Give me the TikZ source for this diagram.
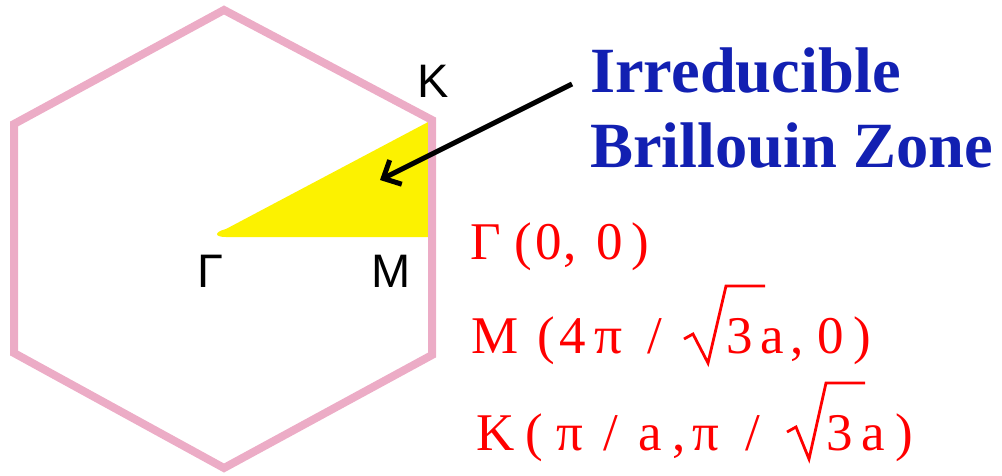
\documentclass[tikz,border=0pt]{standalone}
\usepackage{fontspec}
\setmainfont{Liberation Serif}
\newfontfamily\labsans{Liberation Sans}
\usetikzlibrary{arrows.meta}
\definecolor{hexpink}{RGB}{236,172,198}
\definecolor{ibzyellow}{RGB}{252,242,0}
\definecolor{ibzblue}{RGB}{18,32,178}
\definecolor{coordred}{RGB}{255,0,0}
\newcommand\gl[2]{\makebox[0pt][l]{\hspace*{#1pt}#2}}
\tikzset{
  hexline/.style={draw=hexpink, line width=8pt, line join=miter},
  ptlabel/.style={inner sep=0pt, anchor=base west, font=\labsans\fontsize{47}{50}\selectfont},
  bluetitle/.style={inner sep=0pt, anchor=base west, text=ibzblue, font=\bfseries\fontsize{64.5}{66}\selectfont},
  coordrow/.style={inner sep=0pt, anchor=base west, text=coordred, font=\fontsize{53}{53}\selectfont},
  radical/.style={draw=coordred, line width=2.8pt, line join=miter, line cap=butt},
}
\begin{document}
\begin{tikzpicture}[x=1pt,y=-1pt]
\useasboundingbox (0,0) rectangle (1002,475);
% yellow irreducible zone
\coordinate (G) at (218,233);
\coordinate (Kc) at (430,121);
\coordinate (Mc) at (430,237);
\fill[ibzyellow] (Kc) -- (226,229) .. controls (214,232) and (214,237) .. (226,237) -- (Mc) -- cycle;
% hexagon
\coordinate (h1) at (224,10);
\coordinate (h2) at (432,120);
\coordinate (h3) at (432,355);
\coordinate (h4) at (224,468);
\coordinate (h5) at (14,353);
\coordinate (h6) at (14,124);
\draw[hexline] (h1) -- (h2) -- (h3) -- (h4) -- (h5) -- (h6) -- cycle;
% point labels
\node[ptlabel] (labK) at (417,97) {K};
\node[ptlabel] (labG) at (197,287) {Γ};
\node[ptlabel] (labM) at (371,287) {M};
% title
\node[bluetitle] (t1) at (590,92) {Irreducible};
\node[bluetitle] (t2) at (590,167) {Brillouin Zone};
% arrow
\coordinate (astart) at (572,84);
\coordinate (atip) at (380,180);
\draw[line width=5pt, -{Straight Barb[length=14pt,width=27pt]}] (astart) -- (atip);
% coordinates
\node[coordrow] (row1) at (470,259)
  {\gl{0}{Γ}\gl{44}{(}\gl{65}{0}\gl{93}{,}\gl{126}{0}\gl{161}{)}\hspace*{178pt}};
\node[coordrow] (row2) at (471,353)
  {\gl{0}{M}\gl{66}{(}\gl{88}{4}\gl{123}{\scalebox{1.05}[1]{π}}\gl{176}{/}\gl{255}{3}\gl{289}{a}\gl{319}{,}\gl{346}{0}\gl{382}{)}\hspace*{397pt}};
\node[coordrow] (row3) at (476,450)
  {\gl{0}{K}\gl{49}{(}\gl{80}{π}\gl{127}{/}\gl{162}{a}\gl{196}{,}\gl{216}{π}\gl{269}{/}\gl{350}{3}\gl{385}{a}\gl{419}{)}\hspace*{436pt}};
% radicals
\draw[radical] (684,339) -- (693,334) -- (708,363) -- (726,286) -- (765,286);
\draw[radical] (787,432) -- (796,427) -- (809,459) -- (826,383) -- (865,383);
\end{tikzpicture}
\end{document}
